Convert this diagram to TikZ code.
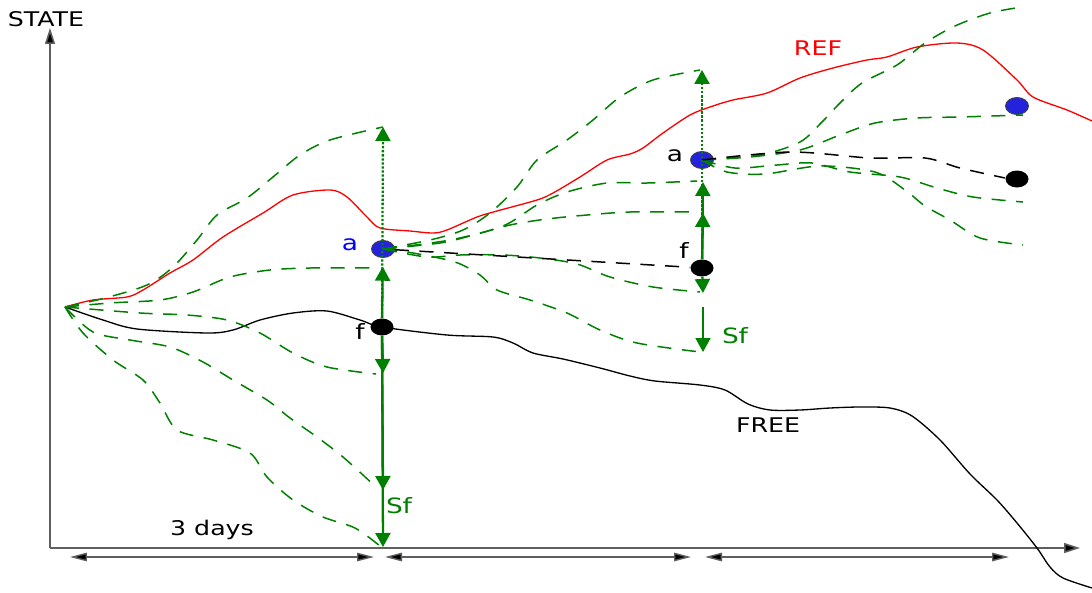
\documentclass[tikz,border=0pt]{standalone}
\usepackage{fontspec}
\setmainfont[FakeStretch=1.25]{DejaVu Sans}
\usepackage{xcolor}
\usetikzlibrary{arrows.meta,shapes.geometric}

\definecolor{simgreen}{RGB}{0,128,0}
\definecolor{dotblue}{RGB}{35,35,220}
\definecolor{axisgray}{RGB}{95,95,95}

\begin{document}
\begin{tikzpicture}[x=0.02cm, y=-0.02cm,
  member/.style={simgreen, dash pattern=on 8pt off 6pt, line width=0.85pt},
  truth/.style={line width=0.75pt},
  fdot/.style={ellipse, fill=black, minimum width=0.46cm, minimum height=0.34cm, inner sep=0pt},
  adot/.style={fdot, fill=dotblue, draw=black!75, line width=0.5pt},
  sfarr/.style={simgreen, line width=1.3pt, -{Triangle[length=0.28cm, width=0.3cm]}},
  spread/.style={simgreen, densely dotted, line width=1.3pt, -{Triangle[length=0.28cm, width=0.3cm]}},
  axisline/.style={axisgray, line width=0.9pt, -{Triangle[length=0.32cm, width=0.2cm, fill=black]}},
  window/.style={axisgray, line width=0.8pt, {Triangle[length=0.34cm, width=0.17cm, fill=black]}-{Triangle[length=0.34cm, width=0.17cm, fill=black]}},
  lbl/.style={font=\fontsize{12}{14}\selectfont, inner sep=0pt},
  txt/.style={font=\fontsize{11.5}{13}\selectfont, inner sep=0pt}
]
\useasboundingbox (0,0) rectangle (1092,592);

% analysis / forecast points
\node[adot] (a1) at (383,249) {};
\node[fdot] (f1) at (382,327) {};
\node[adot] (a2) at (702,160) {};
\node[fdot] (f2) at (702,268) {};
\node[adot] (a3) at (1017,106) {};
\node[fdot] (f3) at (1017,179) {};
\coordinate (o) at (65,307);

% axes
\coordinate (org) at (50,548);
\coordinate (ytop) at (50,28);
\coordinate (xend) at (1080,548);
\draw[axisline] (org) -- (ytop);
\draw[axisline] (org) -- (xend);
\node[txt, anchor=south] (state) at (46,27) {STATE};

% 3-day windows
\coordinate (w0) at (70,557);
\coordinate (w1) at (374,557);
\coordinate (w2) at (385,557);
\coordinate (w3) at (691,557);
\coordinate (w4) at (705,557);
\coordinate (w5) at (1009,557);
\draw[window] (w0) -- (w1);
\draw[window] (w2) -- (w3);
\draw[window] (w4) -- (w5);
\node[txt] (days) at (212,530) {3 days};

% reference run
\draw[truth, red] plot[smooth] coordinates {(o) (93,300) (127,297) (143,290) (170,273)
  (193,260) (223,237) (263,213) (293,195) (330,190) (347,197) (367,217) (380,228)
  (410,231) (433,233) (447,230) (477,217) (497,211) (537,200) (553,193) (580,177)
  (607,160) (630,154) (643,148) (663,133) (690,115) (710,107) (733,100) (767,93)
  (800,78) (833,68) (867,60) (887,57) (917,47) (957,43) (983,50) (1017,80)
  (1033,97) (1067,110) (1092,121)};
\node[txt, red] (ref) at (818,48) {REF};

% free run
\draw[truth, black] plot[smooth] coordinates {(o) (103,320) (137,329) (207,333)
  (233,330) (260,320) (293,313) (327,311) (360,320) (382,327) (447,335) (493,337)
  (513,343) (533,353) (563,359) (600,368) (630,376) (655,381) (700,385) (725,390)
  (748,404) (770,410) (800,410) (830,408) (860,407) (890,408) (912,416) (940,440)
  (970,474) (997,500) (1017,523) (1037,548) (1050,567) (1063,578) (1092,588)};
\node[txt] (free) at (768,425) {FREE};

% ensemble, first window
\draw[member] plot[smooth] coordinates {(o) (105,298) (147,285) (173,267) (197,240)
  (217,215) (247,198) (273,177) (300,155) (330,140) (383,127)};
\draw[member] plot[smooth] coordinates {(o) (110,303) (160,300) (193,292) (230,277)
  (270,270) (310,268) (372,268)};
\draw[member] plot[smooth] coordinates {(o) (140,313) (187,315) (227,320) (260,333)
  (293,353) (327,367) (376,374)};
\draw[member] plot[smooth] coordinates {(o) (93,332) (130,340) (170,347) (203,362)
  (233,380) (267,400) (290,418) (317,437) (343,457) (376,487)};
\draw[member] plot[smooth] coordinates {(o) (83,333) (113,360) (143,380) (160,403)
  (177,430) (213,440) (250,453) (267,477) (293,500) (323,517) (355,528) (380,546)};

% ensemble, second window
\draw[member] plot[smooth] coordinates {(a1) (430,240) (463,230) (490,213) (517,187)
  (537,160) (567,140) (593,120) (620,97) (653,80) (700,70)};
\draw[member] plot[smooth] coordinates {(a1) (440,243) (470,236) (510,225) (547,219)
  (587,215) (630,212) (697,212)};
\draw[member] plot[smooth] coordinates {(a1) (450,240) (503,226) (537,205) (567,192)
  (607,183) (647,183) (697,181)};
\draw[member] plot[smooth] coordinates {(a1) (427,257) (460,255) (503,255) (540,258)
  (577,264) (610,277) (653,287) (700,292)};
\draw[member] plot[smooth] coordinates {(a1) (413,253) (455,262) (480,275) (497,290)
  (530,300) (567,313) (600,330) (637,343) (700,352)};
\draw[black, dash pattern=on 8pt off 6pt, line width=0.85pt] (a1) -- (f2);

% ensemble, third window
\draw[member] plot[smooth] coordinates {(a2) (760,155) (800,142) (822,122) (840,103)
  (862,83) (897,65) (925,43) (955,26) (990,13) (1022,7)};
\draw[member] plot[smooth] coordinates {(a2) (750,157) (800,150) (840,135) (875,123)
  (917,118) (960,117) (1023,115)};
\draw[member] plot[smooth] coordinates {(a2) (735,168) (777,165) (812,163) (850,172)
  (900,177) (937,188) (973,197) (1023,202)};
\draw[member] plot[smooth] coordinates {(a2) (727,172) (765,174) (820,166) (875,172)
  (905,190) (925,206) (950,220) (980,238) (1023,245)};
\draw[black, dash pattern=on 8pt off 6pt, line width=0.85pt] plot[smooth] coordinates {(a2)
  (790,152) (870,158) (925,158) (960,168) (1005,178)};

% analysis increments and spread, first window
\coordinate (s1top) at (383,127);
\coordinate (s1a) at (383,373);
\coordinate (s1b) at (383,490);
\coordinate (s1c) at (383,547);
\draw[spread] (f1) -- (s1top);
\draw[sfarr, shorten >=5pt] (f1) -- (a1);
\draw[sfarr] (f1) -- (s1a);
\draw[sfarr] (f1) -- (s1b);
\draw[sfarr] (f1) -- (s1c);
\node[lbl, blue] (alab1) at (350,245) {a};
\node[lbl] (flab1) at (360,331) {f};
\node[lbl, simgreen] (sf1) at (399,506) {Sf};

% analysis increments and spread, second window
\coordinate (s2top) at (702,70);
\coordinate (s2up) at (703,182);
\coordinate (s2mid) at (703,213);
\coordinate (s2dn) at (703,293);
\coordinate (s2from) at (703,307);
\coordinate (s2end) at (703,352);
\draw[spread] (f2) -- (s2top);
\draw[sfarr] (f2) -- (s2up);
\draw[sfarr] (f2) -- (s2mid);
\draw[sfarr] (f2) -- (s2dn);
\draw[sfarr, line width=1pt] (s2from) -- (s2end);
\node[lbl] (alab2) at (675,156) {a};
\node[lbl] (flab2) at (684,250) {f};
\node[lbl, simgreen] (sf2) at (735,336) {Sf};
\end{tikzpicture}
\end{document}
